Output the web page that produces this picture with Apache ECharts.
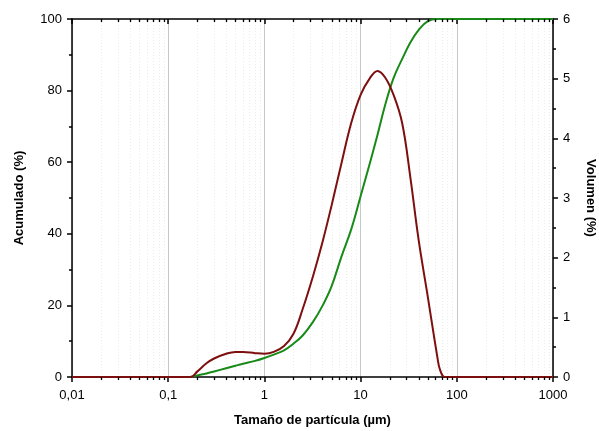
<!DOCTYPE html>
<html>
<head>
<meta charset="utf-8">
<script src="https://cdn.jsdelivr.net/npm/echarts@6/dist/echarts.min.js"></script>
<style>
  html, body { margin: 0; padding: 0; background: #fff; }
  #chart { width: 599px; height: 431px; }
</style>
</head>
<body>
<div id="chart"></div>
<script>
// tamaños de partícula (µm)
const sizes = [0.01, 0.1, 0.17, 0.2, 0.25, 0.3, 0.4, 0.5, 0.6, 0.8, 1, 1.25, 1.6, 2, 2.5, 3.2, 4, 5, 6.3, 8,
  10, 12.5, 15, 18, 22, 27, 33, 40, 50, 63, 67, 75, 100, 1000];
// volumen (%) - eje derecho
const volumen = [0, 0, 0, 0.09, 0.23, 0.31, 0.39, 0.42, 0.42, 0.40, 0.39, 0.42, 0.52, 0.72, 1.14, 1.69, 2.25, 2.88, 3.57, 4.26,
  4.73, 5.01, 5.13, 5.02, 4.73, 4.26, 3.33, 2.31, 1.34, 0.32, 0.12, 0, 0, 0];
// acumulado (%) - eje izquierdo
const acumulado = [null, null, 0, 0.45, 1.0, 1.55, 2.45, 3.15, 3.7, 4.5, 5.3, 6.25, 7.45, 9.3, 11.6, 15.4, 19.8, 25.4, 33.5, 41.3,
  50.5, 59.8, 67.7, 76.0, 83.5, 88.8, 93.5, 96.9, 99.4, 100, 100, 100, 100, 100];

const xMin = 0.01, xMax = 1000;
// ticks menores del eje log (2..9 por década)
const minorX = [];
for (let e = -2; e < 3; e++) {
  for (let m = 2; m <= 9; m++) minorX.push(+(m * Math.pow(10, e)).toPrecision(3));
}

const FONT = '"Liberation Sans", Arial, sans-serif';
const labelStyle = { color: '#000', fontSize: 13, fontFamily: FONT };
const nameStyle = { color: '#000', fontSize: 13, fontWeight: 'bold', fontFamily: FONT };
const blackLine = { color: '#000', width: 1.5 };

const chart = echarts.init(document.getElementById('chart'));

const option = {
  animation: false,
  grid: { left: 72, right: 46, top: 19, bottom: 54, outerBoundsMode: 'none', containLabel: false },
  xAxis: [
    {
      type: 'log', logBase: 10, min: xMin, max: xMax, position: 'bottom',
      name: 'Tamaño de partícula (µm)', nameLocation: 'middle', nameGap: 37,
      nameTextStyle: nameStyle,
      axisLine: { onZero: false, lineStyle: blackLine },
      axisTick: { inside: false, length: 5, lineStyle: blackLine },
      axisLabel: Object.assign({ margin: 12, formatter: v => String(v).replace('.', ',') }, labelStyle),
      splitLine: { show: true, lineStyle: { color: '#c8c8c8', width: 1 } }
    },
    {
      type: 'log', logBase: 10, min: xMin, max: xMax, position: 'top',
      axisLine: { onZero: false, lineStyle: blackLine },
      axisTick: { inside: true, length: 5, lineStyle: blackLine },
      axisLabel: { show: false },
      splitLine: { show: false }
    }
  ],
  yAxis: [
    {
      type: 'value', min: 0, max: 100, interval: 20, position: 'left',
      name: 'Acumulado (%)', nameLocation: 'middle', nameGap: 46, nameRotate: 90,
      nameTextStyle: nameStyle,
      axisLine: { show: true, onZero: false, lineStyle: blackLine },
      axisTick: { show: true, length: 5, lineStyle: blackLine },
      minorTick: { show: true, splitNumber: 2, length: 3, lineStyle: { color: '#000', width: 1.5 } },
      axisLabel: Object.assign({ margin: 10 }, labelStyle),
      splitLine: { show: false }
    },
    {
      type: 'value', min: 0, max: 6, interval: 1, position: 'right',
      name: 'Volumen (%)', nameLocation: 'middle', nameGap: 31, nameRotate: -90,
      nameTextStyle: nameStyle,
      axisLine: { show: true, onZero: false, lineStyle: blackLine },
      axisTick: { show: true, length: 5, lineStyle: blackLine },
      minorTick: { show: true, splitNumber: 2, length: 3, lineStyle: { color: '#000', width: 1.5 } },
      axisLabel: Object.assign({ margin: 10 }, labelStyle),
      splitLine: { show: false }
    }
  ],
  series: [
    {
      name: 'Acumulado', type: 'line', xAxisIndex: 0, yAxisIndex: 0,
      data: sizes.map((s, i) => [s, acumulado[i]]),
      showSymbol: false, smooth: 0.4, connectNulls: false,
      lineStyle: { color: '#188a18', width: 2 }, z: 3
    },
    {
      name: 'Volumen', type: 'line', xAxisIndex: 0, yAxisIndex: 1,
      data: sizes.map((s, i) => [s, volumen[i]]),
      showSymbol: false, smooth: 0.4,
      lineStyle: { color: '#7d0f0f', width: 2 }, z: 4
    }
  ]
};
chart.setOption(option);

// rejilla y ticks menores del eje x (posiciones a partir de la escala del eje)
function drawMinor() {
  const yTop = chart.convertToPixel({ yAxisIndex: 0 }, 100);
  const yBot = chart.convertToPixel({ yAxisIndex: 0 }, 0);
  const els = [];
  minorX.forEach(v => {
    const x = Math.round(chart.convertToPixel({ xAxisIndex: 0 }, v)) + 0.5;
    els.push({
      type: 'line', z: 0, silent: true,
      shape: { x1: x, y1: yTop, x2: x, y2: yBot },
      style: { stroke: '#ececec', lineWidth: 1, lineDash: [1, 2] }
    });
    els.push({
      type: 'line', z: 5, silent: true,
      shape: { x1: x, y1: yBot, x2: x, y2: yBot + 3 },
      style: { stroke: '#000', lineWidth: 1.3 }
    });
    els.push({
      type: 'line', z: 5, silent: true,
      shape: { x1: x, y1: yTop, x2: x, y2: yTop + 3 },
      style: { stroke: '#000', lineWidth: 1.3 }
    });
  });
  chart.setOption({ graphic: els });
}
drawMinor();
</script>
</body>
</html>
